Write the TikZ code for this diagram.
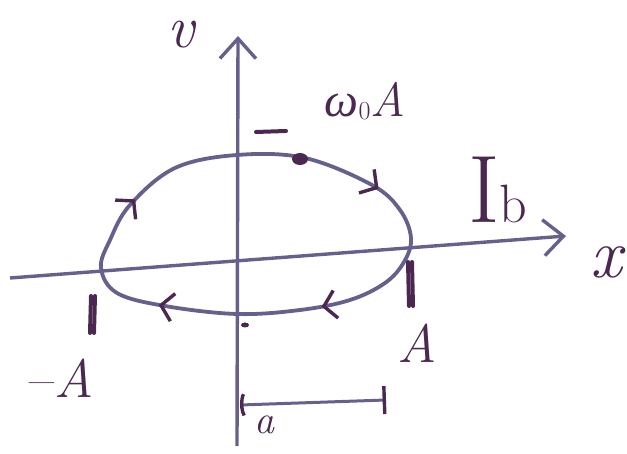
\documentclass[tikz,border=0pt]{standalone}
\usepackage{fontspec}
\newfontfamily\greekfont{Liberation Serif}
\usetikzlibrary{arrows.meta,decorations.markings}
\definecolor{pen}{RGB}{102,96,140}
\definecolor{ink}{RGB}{75,40,80}
\tikzset{
  chev/.tip={Straight Barb[length=12pt,width=28pt,line width=3.4pt,color=ink]}
}

\begin{document}
\begin{tikzpicture}[
    x=1pt, y=-1pt,
    axis/.style={pen, line width=3.4pt, -{Straight Barb[length=20pt,width=36pt,line width=3.4pt]}},
    orbit/.style={pen, line width=3.8pt, postaction={decorate},
      decoration={markings,
        mark=at position 0.105 with {\arrow{chev}},
        mark=at position 0.345 with {\arrow{chev}},
        mark=at position 0.56 with {\arrow{chev}},
        mark=at position 0.76 with {\arrow{chev}}}},
    tick/.style={ink, line width=4pt, line cap=round},
    lbl/.style={ink, inner sep=0pt, font=\itshape}
]
\useasboundingbox (0,0) rectangle (627,454);
% axes
\coordinate (xstart) at (10,278);
\coordinate (xend) at (566,236);
\coordinate (vstart) at (237,446);
\coordinate (vend) at (238,36);
\draw[axis] (xstart) -- (xend);
\draw[axis] (vstart) -- (vend);
\node[lbl] (xlabel) at (606,262) {\fontsize{70}{70}\selectfont x};
\node[lbl] (vlabel) at (181,35) {\fontsize{60}{60}\selectfont v};
% phase orbit
\draw[orbit] plot[smooth cycle, tension=0.6] coordinates {
  (237,155) (305,158) (372,185) (400,210) (411,238) (404,262) (385,283) (350,300)
  (300,310) (237,314) (165,306) (117,293) (101,268) (110,240) (130,205) (175,168)};
\fill[ink] (300,159) ellipse [x radius=8, y radius=6];
% marks and labels
\draw[tick] (256,132) -- (286,131);
\fill[ink] (245,325) ellipse [x radius=4, y radius=2.5];
\draw[tick] (91,296) -- (90,333);
\draw[tick] (95,296) -- (94,333);
\draw[tick] (408,262) -- (409,306);
\draw[tick] (412,262) -- (413,306);
\node[lbl] (wlabel) at (365,101) {\fontsize{48}{48}\selectfont{\greekfont ω}\raisebox{-3pt}{\fontsize{26}{26}\selectfont\upshape 0}A};
\node[lbl] (mlabel) at (62,378) {\fontsize{54}{54}\selectfont\upshape –\itshape A};
\node[lbl] (plabel) at (417,343) {\fontsize{54}{54}\selectfont A};
\node[lbl] (iblabel) at (498,190) {\upshape\fontsize{96}{96}\selectfont I\fontsize{54}{54}\selectfont b};
% scale bar
\coordinate (dimleft) at (240,405);
\coordinate (dimright) at (386,400);
\draw[pen, line width=3pt, {Parenthesis[width=28pt,length=6pt,line width=3.4pt,color=ink]}-{Bar[width=28pt,line width=3.4pt,color=ink]}] (dimleft) -- (dimright);
\node[lbl] (alabel) at (264,425) {\fontsize{40}{40}\selectfont a};
\end{tikzpicture}
\end{document}
